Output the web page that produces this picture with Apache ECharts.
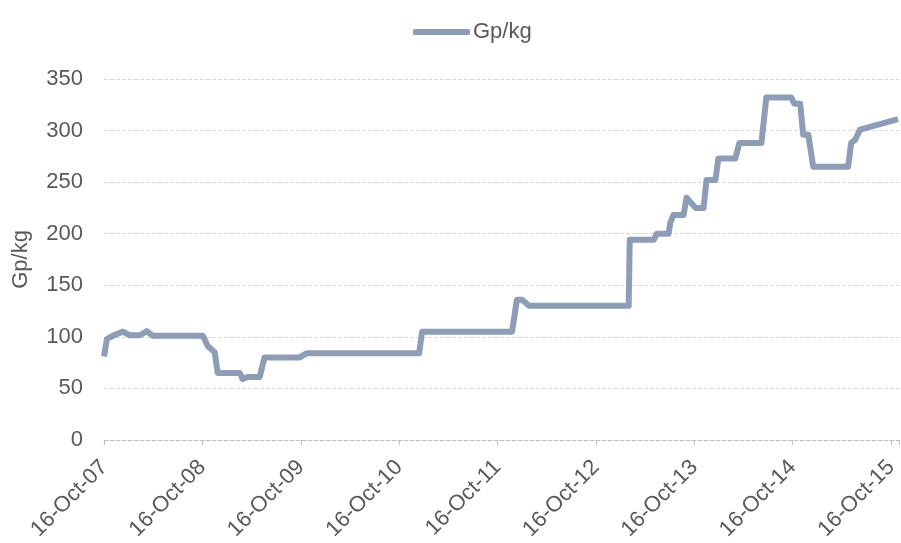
<!DOCTYPE html>
<html>
<head>
<meta charset="utf-8">
<script src="https://cdn.jsdelivr.net/npm/echarts@6/dist/echarts.min.js"></script>
<style>
  html, body { margin: 0; padding: 0; background: #fff; }
  #main { width: 901px; height: 543px; }
</style>
</head>
<body>
<div id="main"></div>
<script>
// price dates and values (Gp/kg)
const dates = [
  '2007-10-16', '2007-10-27', '2007-11-26', '2007-12-25', '2008-01-20', '2008-02-26',
  '2008-03-23', '2008-04-14', '2008-10-17', '2008-11-04', '2008-11-30', '2008-12-11',
  '2009-03-03', '2009-03-14', '2009-04-01', '2009-05-16', '2009-06-03', '2009-10-11',
  '2009-11-06', '2010-12-29', '2011-01-09', '2011-12-09', '2011-12-27', '2012-01-15',
  '2012-02-10', '2013-02-14', '2013-02-18', '2013-05-18', '2013-05-29', '2013-07-12',
  '2013-07-19', '2013-07-30', '2013-09-06', '2013-09-17', '2013-10-20', '2013-11-19',
  '2013-11-30', '2014-01-02', '2014-01-13', '2014-03-17', '2014-04-01', '2014-06-22',
  '2014-07-10', '2014-10-11', '2014-10-22', '2014-11-13', '2014-11-24', '2014-12-13',
  '2014-12-31', '2015-05-10', '2015-05-21', '2015-06-05', '2015-06-23', '2015-11-11'
];
const values = [
  81, 98, 102, 105, 101.5, 101.5,
  105.5, 101, 101, 91, 85, 65,
  65, 59, 61, 61, 80, 80,
  84, 84, 105, 105, 136, 136,
  130, 130, 194, 194, 200, 200,
  211, 218, 218, 235, 225, 225,
  252, 252, 273, 273, 288, 288,
  332, 332, 326, 326, 296, 296,
  265, 265, 288, 291, 301, 311
];
const tickLabels = [
  '16-Oct-07', '16-Oct-08', '16-Oct-09', '16-Oct-10', '16-Oct-11',
  '16-Oct-12', '16-Oct-13', '16-Oct-14', '16-Oct-15'
];
const seriesName = 'Gp/kg';

const YEAR = 365.25 * 24 * 3600 * 1000;
const start = Date.UTC(2007, 9, 16);
const toMs = s => {
  const p = s.split('-');
  return Date.UTC(+p[0], +p[1] - 1, +p[2]);
};
const points = dates.map((d, i) => [toMs(d), values[i]]);

const font = 'Liberation Sans, Arial, sans-serif';
const lineColor = '#8C9DB5';
const myChart = echarts.init(document.getElementById('main'));
const option = {
  animation: false,
  legend: {
    left: 408,
    top: 16,
    icon: 'roundRect',
    itemWidth: 57,
    itemHeight: 6,
    itemGap: 4,
    textStyle: { fontFamily: font, fontSize: 22, color: '#595959', padding: [0, 0, 0, -2] },
    data: [seriesName]
  },
  grid: { left: 104, right: 0, top: 79, bottom: 102 },
  xAxis: {
    type: 'value',
    min: start,
    max: start + 8.08 * YEAR,
    interval: YEAR,
    splitLine: { show: false },
    axisLine: { lineStyle: { color: '#bfbfbf', type: 'dashed' } },
    axisTick: { length: 5, lineStyle: { color: '#bfbfbf' } },
    axisLabel: {
      rotate: 45,
      margin: 24,
      fontFamily: font,
      fontSize: 22,
      color: '#595959',
      formatter: function (v) {
        const k = (v - start) / YEAR;
        const i = Math.round(k);
        return Math.abs(k - i) < 0.01 && tickLabels[i] ? tickLabels[i] : '';
      }
    }
  },
  yAxis: {
    type: 'value',
    min: 0,
    max: 350,
    interval: 50,
    name: 'Gp/kg',
    nameLocation: 'middle',
    nameRotate: 90,
    nameGap: 72,
    nameTextStyle: { fontFamily: font, fontSize: 22, color: '#595959' },
    axisLine: { show: false },
    axisTick: { show: false },
    axisLabel: { margin: 21, fontFamily: font, fontSize: 22, color: '#595959' },
    splitLine: { lineStyle: { color: '#d9d9d9', type: 'dashed' } }
  },
  series: [
    {
      name: seriesName,
      type: 'line',
      showSymbol: false,
      data: points,
      itemStyle: { color: lineColor },
      lineStyle: { width: 6, color: lineColor, join: 'round' }
    }
  ]
};
myChart.setOption(option);
</script>
</body>
</html>
